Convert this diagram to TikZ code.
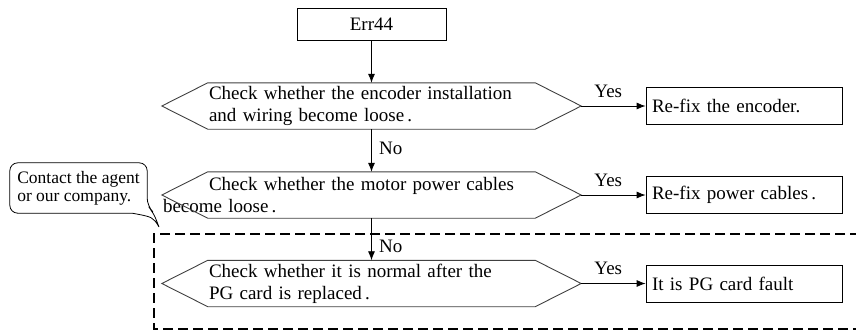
\documentclass[tikz,border=0pt]{standalone}
\usepackage{fontspec}
\setmainfont{Liberation Serif}
\usetikzlibrary{positioning,arrows.meta}
\tikzstyle{errbox} = [rectangle, minimum width=149pt, minimum height=32pt, text centered, draw=black, line width=0.8pt]
\tikzstyle{check} = [rectangle, minimum width=419pt, minimum height=46pt, inner sep=0pt, text width=325pt, align=left]
\tikzstyle{fixbox} = [rectangle, minimum width=196pt, minimum height=37pt, inner xsep=6pt, text width=184pt, align=left, draw=black, line width=0.8pt]
\tikzstyle{arrow} = [line width=0.8pt,->,>={Latex[length=9pt,width=7pt]}]

\begin{document}
\begin{tikzpicture}[x=1pt, y=1pt, on grid, font=\fontsize{19}{22}\selectfont]
      \useasboundingbox (0,0) rectangle (856,333);
      \node (err)[errbox] at (371.5,309) {Err44};
      \node (c1)[check, below=82pt of err]{Check whether the encoder installation\\and wiring become loose\,.};
      \node (c2)[check, below=89pt of c1]{Check whether the motor power cables\\\hspace*{-46pt}become loose\,.};
      \node (c3)[check, below=88.5pt of c2]{Check whether it is normal after the\\PG card is replaced\,.};
      \node (f1)[fixbox, right=372.5pt of c1]{Re-fix the encoder.};
      \node (f2)[fixbox, right=372.5pt of c2]{Re-fix power cables\,.};
      \node (f3)[fixbox, right=372.5pt of c3]{It is PG card fault};
      % hexagon outlines
      \foreach \n in {c1,c2,c3}
        \draw[black!75, line width=0.9pt] (\n.west) -- ([xshift=46pt]\n.north west) -- ([xshift=-46pt]\n.north east)
          -- (\n.east) -- ([xshift=-46pt]\n.south east) -- ([xshift=46pt]\n.south west) -- cycle;
      \draw [arrow](err)--(c1);
      \draw [arrow](c1)--(c2) node[pos=0.45, right=4pt] {No};
      \draw [arrow](c2)--(c3) node[pos=0.66, right=4pt] {No};
      \draw [arrow](c1)--(f1) node[pos=0.42, above=5pt] {Yes};
      \draw [arrow](c2)--(f2) node[pos=0.42, above=5pt] {Yes};
      \draw [arrow](c3)--(f3) node[pos=0.42, above=5pt] {Yes};
      % callout
      \node (note)[minimum width=137pt, minimum height=50pt, align=left, font=\fontsize{17.5}{18}\selectfont] at (78.5,145) {Contact the agent\\or our company.};
      \coordinate (tip) at (159,106);
      \draw[line width=0.8pt, rounded corners=8pt] ([xshift=-15pt]note.south east) -- (note.south west) -- (note.north west)
        -- (note.north east) -- ([yshift=7pt]note.south east) [sharp corners] -- ++(3.5pt,-3.5pt)
        .. controls +(4pt,-6pt) .. (tip) .. controls +(-6pt,10pt) .. ([xshift=-15pt]note.south east);
      % dashed frame
      \draw[line width=1.8pt, dash pattern=on 10pt off 5pt] (860,99) -- (154,99) -- (154,4) -- (860,4);
\end{tikzpicture}
\end{document}
